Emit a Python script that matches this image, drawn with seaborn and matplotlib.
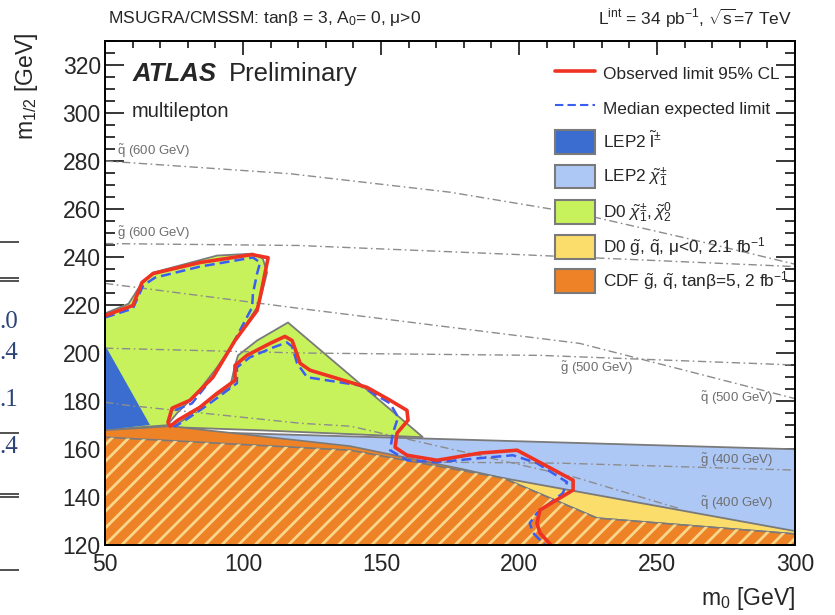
import matplotlib
matplotlib.use("Agg")
import matplotlib.pyplot as plt
import seaborn as sns
from matplotlib.lines import Line2D
from matplotlib.patches import Patch
from matplotlib.ticker import MultipleLocator

# ---------------- exclusion regions in the (m0, m1/2) plane [GeV] ----------------
lep2_chargino_m0 = [50, 300, 300, 50]
lep2_chargino_m12 = [168.2, 159.9, 120, 120]

d0_gq_m0 = [194.2, 300, 300, 194.2]
d0_gq_m12 = [147.9, 125.8, 120, 120]

d0_chi_upper_m0 = [50, 58.5, 63.0, 67.4, 90.6, 103.6, 107.2, 108.7, 106.9, 105.1,
                   98.9, 90.6, 83.3, 76.1, 72.5, 50]
d0_chi_upper_m12 = [216.5, 220.5, 228.5, 233.5, 240.6, 241.4, 239.3, 233.5, 225.2, 219.0,
                    208.1, 194.0, 183.2, 174.9, 169.9, 168.0]

d0_chi_lower_m0 = [74.3, 78.3, 89.1, 95.3, 97.1, 98.2, 105.1, 116.3, 165.2, 138.8, 106.2, 74.3]
d0_chi_lower_m12 = [169.1, 172.0, 181.5, 185.7, 194.8, 199.0, 205.2, 212.7, 164.9, 166.2, 167.8, 169.1]

lep2_slepton_m0 = [50, 66.3, 50]
lep2_slepton_m12 = [203.3, 170.0, 168.0]

cdf_m0 = [50, 73.6, 138.8, 180.0, 194.2, 228.3, 300, 300, 50]
cdf_m12 = [167.8, 169.5, 161.2, 151.5, 147.9, 131.2, 124.6, 120, 120]

cdf_hatched_m0 = [50, 138.8, 194.2, 228.3, 300, 300, 50]
cdf_hatched_m12 = [164.9, 159.5, 147.9, 131.2, 124.6, 120, 120]

# ---------------- 95% CL limits ----------------
obs_m0 = [50, 60.1, 63.4, 67.4, 84.4, 103.3, 109.1, 108.0, 106.2, 105.1, 97.1, 89.1, 80.8,
          74.3, 72.8, 73.6, 76.4, 84.4, 90.6, 97.1, 97.1, 101.4, 109.8, 115.2, 117.8, 120.7,
          124.3, 144.9, 153.3, 159.4, 159.8, 155.8, 155.1, 159.4, 170.3, 185.9, 199.3, 219.6,
          219.6, 207.6, 206.5, 207.6, 211.6]
obs_m12 = [215.6, 219.8, 229.4, 233.1, 237.7, 241.0, 239.7, 233.5, 223.1, 217.7, 205.2, 189.9,
           180.3, 177.0, 171.1, 169.5, 172.0, 177.4, 183.2, 188.6, 194.8, 199.0, 204.0, 206.9,
           205.2, 195.7, 192.8, 185.7, 180.3, 176.1, 172.0, 166.6, 160.7, 157.4, 155.3, 158.3,
           159.5, 147.0, 142.9, 134.6, 129.1, 125.0, 120.0]

exp_m0 = [50, 60.1, 63.8, 68.1, 84.4, 103.6, 106.2, 105.1, 103.6, 103.3, 96.4, 89.1, 81.5,
          74.3, 72.8, 75.4, 77.9, 85.5, 90.9, 97.8, 97.8, 102.5, 110.9, 115.9, 117.8, 119.6,
          123.2, 142.4, 153.3, 156.2, 154.3, 153.3, 159.4, 170.3, 185.9, 197.8, 206.5, 217.4,
          215.9, 206.5, 203.9, 205.1, 209.4]
exp_m12 = [214.8, 218.5, 228.1, 231.4, 236.0, 239.8, 237.7, 233.1, 224.8, 219.0, 204.0, 189.9,
           179.0, 175.7, 171.1, 169.5, 171.1, 177.0, 181.5, 187.4, 194.0, 198.2, 202.3, 204.4,
           202.7, 195.7, 189.9, 186.5, 179.0, 173.2, 166.6, 159.5, 155.3, 154.5, 156.2, 157.4,
           154.1, 146.2, 141.6, 133.3, 129.1, 125.0, 120.0]

# ---------------- squark / gluino iso-mass contours ----------------
sq600_m0 = [50, 117, 175, 222, 260, 300]
sq600_m12 = [280.0, 274.7, 267.0, 258.0, 248.0, 237.0]
gl600_m0 = [50, 120, 200, 300]
gl600_m12 = [245.6, 244.8, 241.0, 236.0]
gl500_m0 = [50, 121, 208, 300]
gl500_m12 = [202.0, 200.0, 199.0, 195.0]
sq500_m0 = [50, 121, 222, 300]
sq500_m12 = [229.0, 218.5, 204.0, 181.0]
gl400_m0 = [50, 170, 215, 300]
gl400_m12 = [158.0, 154.5, 154.1, 151.2]
sq400_m0 = [50, 58, 121, 139, 220, 258]
sq400_m12 = [179.5, 178.2, 170.7, 169.5, 148.3, 135.2]

mass_labels = [r"$\tilde{\mathrm{q}}$ (600 GeV)", r"$\tilde{\mathrm{g}}$ (600 GeV)",
               r"$\tilde{\mathrm{g}}$ (500 GeV)", r"$\tilde{\mathrm{q}}$ (500 GeV)",
               r"$\tilde{\mathrm{g}}$ (400 GeV)", r"$\tilde{\mathrm{q}}$ (400 GeV)"]
mass_label_m0 = [54.3, 54.3, 214.9, 265.6, 265.6, 265.6]
mass_label_m12 = [284.2, 250.1, 193.6, 181.1, 155.3, 137.5]

x_ticks = [50, 100, 150, 200, 250, 300]
y_ticks = [120, 140, 160, 180, 200, 220, 240, 260, 280, 300, 320]

# ---------------- style ----------------
sns.set_style("ticks")
plt.rcParams["font.family"] = ["Liberation Sans", "DejaVu Sans"]
plt.rcParams["mathtext.fontset"] = "custom"
plt.rcParams["mathtext.rm"] = "Liberation Sans"
plt.rcParams["mathtext.it"] = "Liberation Sans:italic"
plt.rcParams["mathtext.bf"] = "Liberation Sans:bold"
plt.rcParams["hatch.linewidth"] = 2.0

C_SLEPTON = "#3b6dd0"
C_CHARGINO = "#aec8f6"
C_D0CHI = "#c8f25c"
C_D0GQ = "#fbdd6c"
C_CDF = "#ee8227"
C_HATCH = "#f8d78a"
C_EDGE = "#7a7a7a"
C_OBS = "#ee3322"
C_EXP = "#3a5ef0"
C_MASS = "#8c8c8c"

fig = plt.figure(figsize=(8.35, 6.15), dpi=100)
ax = fig.add_axes([105 / 835, 1 - 545 / 615, 690 / 835, 504 / 615])

# filled exclusion regions
ax.fill(lep2_chargino_m0, lep2_chargino_m12, facecolor=C_CHARGINO, edgecolor=C_EDGE, lw=1.3, zorder=1.0)
ax.fill(d0_gq_m0, d0_gq_m12, facecolor=C_D0GQ, edgecolor=C_EDGE, lw=1.3, zorder=1.1)
ax.fill(d0_chi_upper_m0, d0_chi_upper_m12, facecolor=C_D0CHI, edgecolor=C_EDGE, lw=1.3, zorder=1.2)
ax.fill(d0_chi_lower_m0, d0_chi_lower_m12, facecolor=C_D0CHI, edgecolor=C_EDGE, lw=1.3, zorder=1.2)
ax.fill(lep2_slepton_m0, lep2_slepton_m12, facecolor=C_SLEPTON, edgecolor="none", zorder=1.3)

# iso-mass contours
mass_lines = [(sq600_m0, sq600_m12), (gl600_m0, gl600_m12), (gl500_m0, gl500_m12),
              (sq500_m0, sq500_m12), (gl400_m0, gl400_m12), (sq400_m0, sq400_m12)]
for m0, m12 in mass_lines:
    sns.lineplot(x=m0, y=m12, sort=False, estimator=None, ax=ax, color=C_MASS,
                 lw=1.0, linestyle=(0, (6, 2.5, 1.2, 2.5)), zorder=1.5)
for lab, lx, ly in zip(mass_labels, mass_label_m0, mass_label_m12):
    ax.text(lx, ly, lab, fontsize=9.5, color="#6e6e6e", ha="left", va="center", zorder=1.55)

# Tevatron gluino/squark region
ax.fill(cdf_m0, cdf_m12, facecolor=C_CDF, edgecolor=C_EDGE, lw=1.2, zorder=1.6)
ax.fill(cdf_hatched_m0, cdf_hatched_m12, facecolor=C_CDF, edgecolor=C_EDGE, lw=1.2, zorder=1.7)
ax.fill(cdf_hatched_m0, cdf_hatched_m12, facecolor="none", edgecolor=C_HATCH, hatch="//",
        lw=0, zorder=1.75)

# limits
sns.lineplot(x=exp_m0, y=exp_m12, sort=False, estimator=None, ax=ax, color=C_EXP,
             lw=1.8, linestyle=(0, (4, 2)), zorder=3)
sns.lineplot(x=obs_m0, y=obs_m12, sort=False, estimator=None, ax=ax, color=C_OBS,
             lw=2.6, zorder=3.1)

ax.set_xlim(50, 300)
ax.set_ylim(120, 330)
ax.set_xticks(x_ticks)
ax.set_yticks(y_ticks)
ax.xaxis.set_minor_locator(MultipleLocator(10))
ax.yaxis.set_minor_locator(MultipleLocator(5))
ax.tick_params(axis="both", which="both", direction="in", top=True, right=True,
               color="black", width=1.1, labelsize=16.5)
ax.tick_params(axis="x", which="major", length=10, pad=6)
ax.tick_params(axis="x", which="minor", length=5)
ax.tick_params(axis="y", which="major", length=14, pad=3)
ax.tick_params(axis="y", which="minor", length=7)
for sp in ax.spines.values():
    sp.set_linewidth(1.4)
    sp.set_color("black")
    sp.set_zorder(5)
ax.set_xlabel("")
ax.set_ylabel("")

# legend
handles = [
    Line2D([], [], color=C_OBS, lw=2.6),
    Line2D([], [], color=C_EXP, lw=1.5, linestyle=(0, (4, 2))),
    Patch(facecolor=C_SLEPTON, edgecolor=C_EDGE, lw=1.5),
    Patch(facecolor=C_CHARGINO, edgecolor=C_EDGE, lw=1.5),
    Patch(facecolor=C_D0CHI, edgecolor=C_EDGE, lw=1.5),
    Patch(facecolor=C_D0GQ, edgecolor=C_EDGE, lw=1.5),
    Patch(facecolor=C_CDF, edgecolor=C_EDGE, lw=1.5),
]
labels = [
    "Observed limit 95% CL",
    "Median expected limit",
    r"LEP2 $\tilde{\mathrm{l}}^{\pm}$",
    r"LEP2 $\tilde{\chi}^{\pm}_{1}$",
    r"D0 $\tilde{\chi}^{\pm}_{1}, \tilde{\chi}^{0}_{2}$",
    r"D0 $\tilde{\mathrm{g}}$, $\tilde{\mathrm{q}}$, μ<0, 2.1 fb$^{-1}$",
    r"CDF $\tilde{\mathrm{g}}$, $\tilde{\mathrm{q}}$, tanβ=5, 2 fb$^{-1}$",
]
leg = ax.legend(handles, labels, loc="upper left", bbox_to_anchor=(0.652, 0.958),
                frameon=False, fontsize=12.4, handlelength=2.35, handleheight=1.72,
                labelspacing=0.62, handletextpad=0.45, borderpad=0, borderaxespad=0)
leg.set_zorder(6)

# in-plot titles
ax.text(59.8, 316.3, "ATLAS", fontsize=18.5, fontweight="bold", fontstyle="italic",
        ha="left", va="center", zorder=6)
ax.text(95.0, 316.3, "Preliminary", fontsize=18.5, ha="left", va="center", zorder=6)
ax.text(59.8, 300.5, "multilepton", fontsize=14.5, ha="left", va="center", zorder=6)

# header and axis titles
fig.text(108 / 835, 1 - 18 / 615, r"MSUGRA/CMSSM: tanβ = 3, A$_0$= 0, μ>0",
         fontsize=12.5, ha="left", va="center")
fig.text(792 / 835, 1 - 18 / 615, r"L$^{\rm int}$ = 34 pb$^{-1}$, $\sqrt{\rm s}$=7 TeV",
         fontsize=12.5, ha="right", va="center")
fig.text(27 / 835, 1 - 33 / 615, r"m$_{1/2}$ [GeV]", fontsize=16.5, rotation=90,
         ha="center", va="top")
fig.text(795 / 835, 1 - 598 / 615, r"m$_0$ [GeV]", fontsize=16.5, ha="right", va="center")

# neighbouring table fragment on the left margin
frag = fig.add_axes([0, 0, 19 / 835, 1])
frag.set_xlim(0, 19)
frag.set_ylim(615, 0)
frag.axis("off")
for yy in [242, 278, 281, 433, 494, 497, 570]:
    frag.plot([0, 19], [yy, yy], color="#222222", lw=1.1)
for txt, yy in [(".0", 322), (".4", 353), (".1", 400), (".4", 447)]:
    frag.text(-1, yy, txt, fontsize=18, family="Liberation Serif", color="#2d4478",
              ha="left", va="center", clip_on=True)

fig.savefig("out.png", dpi=100)
